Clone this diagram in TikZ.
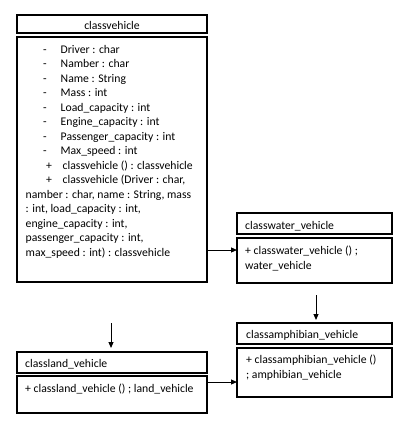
\documentclass[tikz,border=0pt]{standalone}
\usepackage{fontspec}
\setmainfont{Carlito}
\usetikzlibrary{arrows.meta}
\begin{document}
\begin{tikzpicture}[x=1pt,y=-1pt,
  box/.style={draw,line width=1.2pt,inner sep=0pt,outer sep=0pt},
  txt/.style={anchor=base west,inner sep=0pt,font=\fontsize{11.7}{14.5}\selectfont},
  ctxt/.style={anchor=base,inner sep=0pt,font=\fontsize{11.7}{14.5}\selectfont},
  arr/.style={-{Triangle[length=6pt,width=5pt]},line width=1pt}]
\useasboundingbox (0,0) rectangle (414,434);
% boxes
\node[box,minimum width=190pt,minimum height=18pt] (cvt) at (112,24) {};
\node[box,minimum width=190pt,minimum height=245pt] (cvb) at (112,159.5) {};
\node[box,minimum width=155pt,minimum height=21pt] (wt) at (314.5,223.5) {};
\node[box,minimum width=155pt,minimum height=45pt] (wb) at (314.5,260.5) {};
\node[box,minimum width=155pt,minimum height=21pt] (at) at (314.5,333.5) {};
\node[box,minimum width=155pt,minimum height=49pt] (ab) at (314.5,372.5) {};
\node[box,minimum width=190pt,minimum height=21pt] (lt) at (112,362.5) {};
\node[box,minimum width=190pt,minimum height=37pt] (lb) at (112,394.5) {};
% titles
\node[ctxt] (cvtt) at (112,29) {classvehicle};
\node[txt] (wtt) at (245,229) {classwater\_vehicle};
\node[txt] (att) at (246,338.5) {classamphibian\_vehicle};
\node[txt] (ltt) at (25,367) {classland\_vehicle};
% classvehicle attributes
\foreach \y/\t [count=\i] in {53.3/Driver : char, 67.8/Namber : char, 82.3/Name : String, 96.8/Mass : int,
  111.3/Load\_capacity : int, 125.8/Engine\_capacity : int, 140.3/Passenger\_capacity : int, 154.8/Max\_speed : int}{
  \node[txt] (d\i) at (43,\y) {-};
  \node[txt] (a\i) at (60.5,\y) {\t};
}
\node[txt] (p1) at (46,169.3) {+};
\node[txt] (m1) at (62.5,169.3) {classvehicle () : classvehicle};
\node[txt] (p2) at (46,183.8) {+};
\node[txt] (m2) at (62.5,183.8) {classvehicle (Driver : char,};
\node[txt] (m3) at (25.5,198.3) {namber : char, name : String, mass};
\node[txt] (m4) at (25.5,212.8) {: int, load\_capacity : int,};
\node[txt] (m5) at (25.5,227.3) {engine\_capacity : int,};
\node[txt] (m6) at (25.5,241.8) {passenger\_capacity : int,};
\node[txt] (m7) at (25.5,256.3) {max\_speed : int) : classvehicle};
% other bodies
\node[txt] (w1) at (245,254.5) {+ classwater\_vehicle () ;};
\node[txt] (w2) at (245,269) {water\_vehicle};
\node[txt] (am1) at (246,363.5) {+ classamphibian\_vehicle ()};
\node[txt] (am2) at (246,378) {; amphibian\_vehicle};
\node[txt] (l1) at (25,392) {+ classland\_vehicle () ; land\_vehicle};
% connectors
\coordinate (wa) at (316,295);
\coordinate (la) at (111,323);
\draw[arr] (cvb.east |- 0,250) -- (wb.west |- 0,250);
\draw[arr,shorten >=3pt] (wa) -- (wa |- at.north);
\draw[arr,shorten >=4pt] (la) -- (la |- lt.north);
\draw[arr] (lb.east |- 0,382) -- (ab.west |- 0,382);
\end{tikzpicture}
\end{document}
